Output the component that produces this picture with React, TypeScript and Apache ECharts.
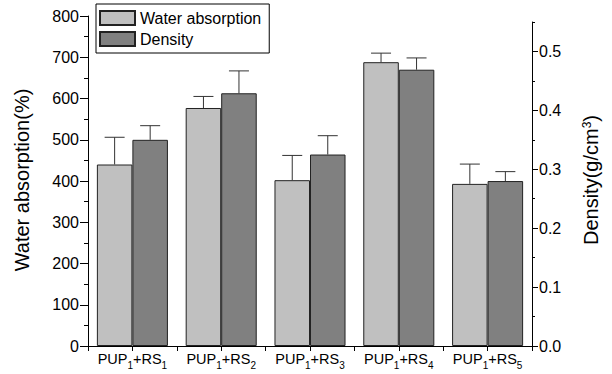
import React, { useEffect, useRef } from 'react';
import * as echarts from 'echarts';

const categories = ['PUP1+RS1', 'PUP1+RS2', 'PUP1+RS3', 'PUP1+RS4', 'PUP1+RS5'];
const waterAbsorption = [440, 577, 402, 688, 393];
const waterAbsorptionErr = [66, 28, 60, 22, 48];
const density = [0.35, 0.429, 0.325, 0.469, 0.28];
const densityErr = [0.024, 0.038, 0.032, 0.02, 0.016];
const rightTicks = [0, 0.1, 0.2, 0.3, 0.4, 0.5];
const rightMinorTicks = [0.05, 0.15, 0.25, 0.35, 0.45, 0.55];

const FONT = "'Liberation Sans', Arial, sans-serif";
const INK = '#000';

const errRender = (side: number) => (params: any, api: any) => {
  const idx = api.value(0);
  const v = api.value(1);
  const e = api.value(2);
  const band = api.size([1, 0])[0];
  const base = api.coord([idx, v]);
  const top = api.coord([idx, v + e]);
  const x = base[0] + side * band * 0.2;
  const half = 10;
  return {
    type: 'group',
    children: [
      { type: 'line', shape: { x1: x, y1: base[1], x2: x, y2: top[1] }, style: { stroke: '#333', lineWidth: 1 } },
      { type: 'line', shape: { x1: x - half, y1: top[1], x2: x + half, y2: top[1] }, style: { stroke: '#333', lineWidth: 1 } },
    ],
  };
};

export default function App() {
  const ref = useRef<HTMLDivElement>(null);
  useEffect(() => {
    if (!ref.current) return;
    const chart = echarts.init(ref.current, undefined, { renderer: 'svg' });
    const pad = categories.map(() => '-');
    const option: any = {
      animation: false,
      backgroundColor: '#fff',
      textStyle: { fontFamily: FONT, color: INK },
      grid: [
        { left: 88, right: 80, top: 16, bottom: 28 },
        { left: 88, right: 80, top: 22, bottom: 28 },
      ],
      legend: {
        data: ['Water absorption', 'Density'],
        orient: 'vertical',
        left: 96,
        top: 4,
        padding: [6, 8, 6, 3],
        itemWidth: 35,
        itemHeight: 14,
        itemGap: 5,
        borderColor: INK,
        borderWidth: 1,
        selectedMode: false,
        icon: 'rect',
        textStyle: { fontSize: 16, color: INK, fontFamily: FONT, lineHeight: 14 },
      },
      xAxis: [
        {
          type: 'category',
          gridIndex: 0,
          data: categories,
          axisLine: { show: true, lineStyle: { color: INK, width: 1 } },
          axisTick: { show: true, length: 5, interval: 0, alignWithLabel: false, lineStyle: { color: INK } },
          axisLabel: {
            interval: 0,
            margin: 5,
            color: INK,
            formatter: (v: string) => v.replace(/^(\D+)(\d)\+(\D+)(\d)$/, '{m|$1}{s|$2}{m|+$3}{s|$4}'),
            rich: {
              m: { fontSize: 14.5, fontFamily: FONT, color: INK, lineHeight: 14, verticalAlign: 'top' },
              s: { fontSize: 10, fontFamily: FONT, color: INK, lineHeight: 19, verticalAlign: 'bottom' },
            },
          },
          splitLine: { show: false },
        },
        {
          type: 'category',
          gridIndex: 1,
          data: categories,
          axisLine: { show: false },
          axisTick: { show: true, length: 5, interval: 0, alignWithLabel: true, lineStyle: { color: INK } },
          axisLabel: { show: false },
          splitLine: { show: false },
        },
      ],
      yAxis: [
        {
          type: 'value',
          gridIndex: 0,
          position: 'left',
          min: 0,
          max: 800,
          interval: 100,
          axisLine: { show: true, lineStyle: { color: INK, width: 1 } },
          axisTick: { show: true, length: 8, lineStyle: { color: INK } },
          minorTick: { show: true, splitNumber: 2, length: 4, lineStyle: { color: INK } },
          axisLabel: { fontSize: 16, color: INK, fontFamily: FONT, margin: 9 },
          splitLine: { show: false },
        },
        {
          type: 'value',
          gridIndex: 1,
          position: 'right',
          min: 0,
          max: 0.55,
          interval: 0.1,
          axisLine: { show: true, lineStyle: { color: INK, width: 1 } },
          axisTick: { show: true, length: 6, customValues: rightTicks, lineStyle: { color: INK } },
          axisLabel: {
            fontSize: 16,
            color: INK,
            fontFamily: FONT,
            margin: 7,
            customValues: rightTicks,
            formatter: (v: number) => v.toFixed(1),
          },
          splitLine: { show: false },
        },
        {
          type: 'value',
          gridIndex: 1,
          position: 'right',
          min: 0,
          max: 0.55,
          interval: 0.05,
          axisLine: { show: false },
          axisTick: { show: true, length: 3, customValues: rightMinorTicks, lineStyle: { color: INK } },
          axisLabel: { show: false },
          splitLine: { show: false },
        },
      ],
      series: [
        {
          type: 'bar',
          name: 'Water absorption',
          xAxisIndex: 0,
          yAxisIndex: 0,
          data: waterAbsorption,
          barGap: '0%',
          barCategoryGap: '20%',
          itemStyle: { color: '#c0c0c0', borderColor: '#222', borderWidth: 1 },
        },
        {
          type: 'bar',
          name: 'pad-a',
          xAxisIndex: 0,
          yAxisIndex: 0,
          data: pad,
          barGap: '0%',
          barCategoryGap: '20%',
        },
        {
          type: 'bar',
          name: 'pad-b',
          xAxisIndex: 1,
          yAxisIndex: 1,
          data: pad,
          barGap: '0%',
          barCategoryGap: '20%',
        },
        {
          type: 'bar',
          name: 'Density',
          xAxisIndex: 1,
          yAxisIndex: 1,
          data: density,
          barGap: '0%',
          barCategoryGap: '20%',
          itemStyle: { color: '#808080', borderColor: '#222', borderWidth: 1 },
        },
        {
          type: 'custom',
          name: 'Water absorption error',
          xAxisIndex: 0,
          yAxisIndex: 0,
          z: 5,
          data: waterAbsorption.map((v, i) => [i, v, waterAbsorptionErr[i]]),
          encode: { x: 0, y: 1 },
          renderItem: errRender(-1),
        },
        {
          type: 'custom',
          name: 'Density error',
          xAxisIndex: 1,
          yAxisIndex: 1,
          z: 5,
          data: density.map((v, i) => [i, v, densityErr[i]]),
          encode: { x: 0, y: 1 },
          renderItem: errRender(1),
        },
      ],
      graphic: [
        {
          type: 'text',
          x: 22,
          y: 180,
          rotation: Math.PI / 2,
          style: {
            text: 'Water absorption(%)',
            fontSize: 20,
            fontFamily: FONT,
            fill: INK,
            align: 'center',
            verticalAlign: 'middle',
            textAlign: 'center',
            textVerticalAlign: 'middle',
          },
        },
        {
          type: 'text',
          x: 591,
          y: 180,
          rotation: Math.PI / 2,
          style: {
            text: 'Density(g/cm{sup|3})',
            fontSize: 20,
            fontFamily: FONT,
            fill: INK,
            align: 'center',
            verticalAlign: 'middle',
            textAlign: 'center',
            textVerticalAlign: 'middle',
            rich: {
              sup: { fontSize: 12, fontFamily: FONT, fill: INK, verticalAlign: 'top' },
            },
          },
        },
      ],
    };
    chart.setOption(option);
    return () => chart.dispose();
  }, []);
  return <div ref={ref} style={{ width: 612, height: 374, position: 'absolute', left: 0, top: 0 }} />;
}
